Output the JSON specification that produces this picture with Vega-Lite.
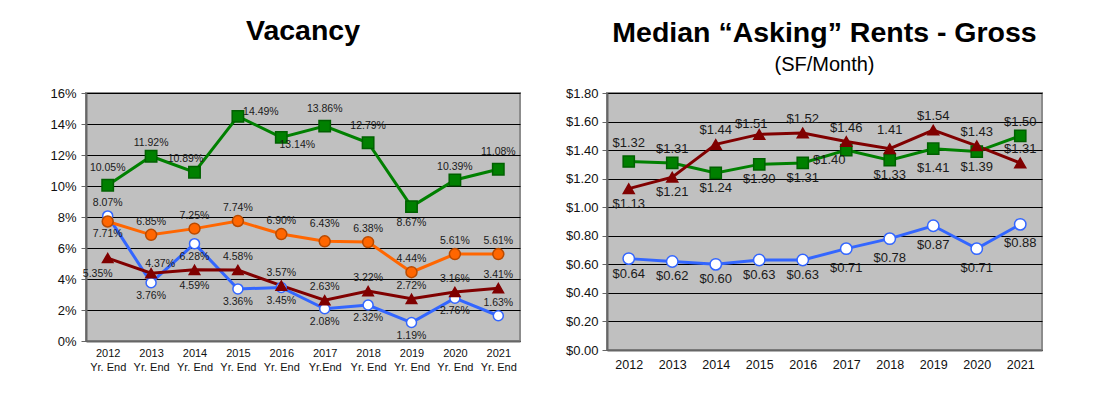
{
  "$schema": "https://vega.github.io/schema/vega-lite/v6.json",
  "padding": {"left": 48, "top": 15, "right": 5, "bottom": 5},
  "background": "white",
  "spacing": 43,
  "config": {
    "font": "Liberation Sans",
    "view": {"fill": "#C0C0C0", "stroke": "#8c8c8c", "strokeWidth": 2},
    "axis": {"labelFont": "Liberation Sans", "labelColor": "#111111", "domainColor": "#666666", "domainWidth": 2, "tickColor": "#666666", "gridColor": "#000000", "gridWidth": 1, "gridOpacity": 1, "title": null},
    "title": {"font": "Liberation Sans", "fontWeight": "bold", "color": "#000000", "anchor": "middle", "frame": "group"}
  },
  "datasets": {
    "vac": [
      {"year": "2012", "s": "blue", "v": 8.07, "t": "8.07%"},
      {"year": "2013", "s": "blue", "v": 3.76, "t": "3.76%"},
      {"year": "2014", "s": "blue", "v": 6.28, "t": "6.28%"},
      {"year": "2015", "s": "blue", "v": 3.36, "t": "3.36%"},
      {"year": "2016", "s": "blue", "v": 3.45, "t": "3.45%"},
      {"year": "2017", "s": "blue", "v": 2.08, "t": "2.08%"},
      {"year": "2018", "s": "blue", "v": 2.32, "t": "2.32%"},
      {"year": "2019", "s": "blue", "v": 1.19, "t": "1.19%"},
      {"year": "2020", "s": "blue", "v": 2.76, "t": "2.76%"},
      {"year": "2021", "s": "blue", "v": 1.63, "t": "1.63%"},
      {"year": "2012", "s": "red", "v": 5.35, "t": "5.35%"},
      {"year": "2013", "s": "red", "v": 4.37, "t": "4.37%"},
      {"year": "2014", "s": "red", "v": 4.59, "t": "4.59%"},
      {"year": "2015", "s": "red", "v": 4.58, "t": "4.58%"},
      {"year": "2016", "s": "red", "v": 3.57, "t": "3.57%"},
      {"year": "2017", "s": "red", "v": 2.63, "t": "2.63%"},
      {"year": "2018", "s": "red", "v": 3.22, "t": "3.22%"},
      {"year": "2019", "s": "red", "v": 2.72, "t": "2.72%"},
      {"year": "2020", "s": "red", "v": 3.16, "t": "3.16%"},
      {"year": "2021", "s": "red", "v": 3.41, "t": "3.41%"},
      {"year": "2012", "s": "orange", "v": 7.71, "t": "7.71%"},
      {"year": "2013", "s": "orange", "v": 6.85, "t": "6.85%"},
      {"year": "2014", "s": "orange", "v": 7.25, "t": "7.25%"},
      {"year": "2015", "s": "orange", "v": 7.74, "t": "7.74%"},
      {"year": "2016", "s": "orange", "v": 6.90, "t": "6.90%"},
      {"year": "2017", "s": "orange", "v": 6.43, "t": "6.43%"},
      {"year": "2018", "s": "orange", "v": 6.38, "t": "6.38%"},
      {"year": "2019", "s": "orange", "v": 4.44, "t": "4.44%"},
      {"year": "2020", "s": "orange", "v": 5.61, "t": "5.61%"},
      {"year": "2021", "s": "orange", "v": 5.61, "t": "5.61%"},
      {"year": "2012", "s": "green", "v": 10.05, "t": "10.05%"},
      {"year": "2013", "s": "green", "v": 11.92, "t": "11.92%"},
      {"year": "2014", "s": "green", "v": 10.89, "t": "10.89%"},
      {"year": "2015", "s": "green", "v": 14.49, "t": "14.49%"},
      {"year": "2016", "s": "green", "v": 13.14, "t": "13.14%"},
      {"year": "2017", "s": "green", "v": 13.86, "t": "13.86%"},
      {"year": "2018", "s": "green", "v": 12.79, "t": "12.79%"},
      {"year": "2019", "s": "green", "v": 8.67, "t": "8.67%"},
      {"year": "2020", "s": "green", "v": 10.39, "t": "10.39%"},
      {"year": "2021", "s": "green", "v": 11.08, "t": "11.08%"}
    ],
    "rent": [
      {"year": "2012", "s": "blue", "v": 0.64, "t": "$0.64"},
      {"year": "2013", "s": "blue", "v": 0.62, "t": "$0.62"},
      {"year": "2014", "s": "blue", "v": 0.60, "t": "$0.60"},
      {"year": "2015", "s": "blue", "v": 0.63, "t": "$0.63"},
      {"year": "2016", "s": "blue", "v": 0.63, "t": "$0.63"},
      {"year": "2017", "s": "blue", "v": 0.71, "t": "$0.71"},
      {"year": "2018", "s": "blue", "v": 0.78, "t": "$0.78"},
      {"year": "2019", "s": "blue", "v": 0.87, "t": "$0.87"},
      {"year": "2020", "s": "blue", "v": 0.71, "t": "$0.71"},
      {"year": "2021", "s": "blue", "v": 0.88, "t": "$0.88"},
      {"year": "2012", "s": "green", "v": 1.32, "t": "$1.32"},
      {"year": "2013", "s": "green", "v": 1.31, "t": "$1.31"},
      {"year": "2014", "s": "green", "v": 1.24, "t": "$1.24"},
      {"year": "2015", "s": "green", "v": 1.30, "t": "$1.30"},
      {"year": "2016", "s": "green", "v": 1.31, "t": "$1.31"},
      {"year": "2017", "s": "green", "v": 1.40, "t": "$1.40"},
      {"year": "2018", "s": "green", "v": 1.33, "t": "$1.33"},
      {"year": "2019", "s": "green", "v": 1.41, "t": "$1.41"},
      {"year": "2020", "s": "green", "v": 1.39, "t": "$1.39"},
      {"year": "2021", "s": "green", "v": 1.50, "t": "$1.50"},
      {"year": "2012", "s": "red", "v": 1.13, "t": "$1.13"},
      {"year": "2013", "s": "red", "v": 1.21, "t": "$1.21"},
      {"year": "2014", "s": "red", "v": 1.44, "t": "$1.44"},
      {"year": "2015", "s": "red", "v": 1.51, "t": "$1.51"},
      {"year": "2016", "s": "red", "v": 1.52, "t": "$1.52"},
      {"year": "2017", "s": "red", "v": 1.46, "t": "$1.46"},
      {"year": "2018", "s": "red", "v": 1.41, "t": "1.41"},
      {"year": "2019", "s": "red", "v": 1.54, "t": "$1.54"},
      {"year": "2020", "s": "red", "v": 1.43, "t": "$1.43"},
      {"year": "2021", "s": "red", "v": 1.31, "t": "$1.31"}
    ]
  },
  "resolve": {"scale": {"color": "independent", "fill": "independent", "stroke": "independent", "shape": "independent", "size": "independent"}},
  "hconcat": [
    {
      "title": {"text": "Vacancy", "fontSize": 28.5, "offset": 42},
      "width": 434,
      "height": 248,
      "data": {"name": "vac"},
      "transform": [{"calculate": "datum.s + datum.year", "as": "k"}],
      "encoding": {
        "x": {"field": "year", "type": "ordinal", "scale": {"paddingInner": 0, "paddingOuter": 0},
              "axis": {"labelAngle": 0, "ticks": false, "labelFontSize": 11, "labelLineHeight": 14, "labelPadding": 6,
                       "labelExpr": "datum.label == '2017' ? ['2017', 'Yr.End'] : [datum.label, 'Yr. End']"}},
        "y": {"field": "v", "type": "quantitative", "scale": {"domain": [0, 16], "nice": false},
              "axis": {"values": [0, 2, 4, 6, 8, 10, 12, 14, 16], "labelExpr": "datum.value + '%'", "labelFontSize": 13, "tickSize": 5, "labelPadding": 5}}
      },
      "layer": [
        {"mark": {"type": "line", "strokeWidth": 3},
         "encoding": {"color": {"field": "s", "type": "nominal", "legend": null,
                                "scale": {"domain": ["blue", "red", "orange", "green"], "range": ["#3366FF", "#800000", "#FF6600", "#008000"]}}}},
        {"mark": {"type": "point", "filled": true, "opacity": 1, "strokeWidth": 1.5},
         "encoding": {
           "shape": {"field": "s", "type": "nominal", "legend": null, "scale": {"domain": ["blue", "red", "orange", "green"], "range": ["circle", "triangle-up", "circle", "square"]}},
           "fill": {"field": "s", "type": "nominal", "legend": null, "scale": {"domain": ["blue", "red", "orange", "green"], "range": ["#FFFFFF", "#800000", "#FF6600", "#008000"]}},
           "stroke": {"field": "s", "type": "nominal", "legend": null, "scale": {"domain": ["blue", "red", "orange", "green"], "range": ["#3366FF", "#800000", "#B84A00", "#006000"]}},
           "size": {"field": "s", "type": "nominal", "legend": null, "scale": {"domain": ["blue", "red", "orange", "green"], "range": [100, 130, 100, 120]}}
         }},
        {"transform": [{"filter": "indexof(['green2012','green2017','green2018','green2021','orange2017','orange2012','blue2013','blue2014','blue2015','blue2016','blue2017','blue2018','blue2019','blue2020','red2014','green2019','red2012','green2015','green2016','red2013','green2014'], datum.k) < 0"}],
         "mark": {"type": "text", "fontSize": 10.5, "color": "#1a1a1a", "dy": -13}, "encoding": {"text": {"field": "t"}}},
        {"transform": [{"filter": "indexof(['green2012','green2017','green2018','green2021','orange2017'], datum.k) >= 0"}],
         "mark": {"type": "text", "fontSize": 10.5, "color": "#1a1a1a", "dy": -17}, "encoding": {"text": {"field": "t"}}},
        {"transform": [{"filter": "indexof(['orange2012','blue2013','blue2014','blue2015','blue2016','blue2017','blue2018','blue2019','blue2020'], datum.k) >= 0"}],
         "mark": {"type": "text", "fontSize": 10.5, "color": "#1a1a1a", "dy": 13}, "encoding": {"text": {"field": "t"}}},
        {"transform": [{"filter": "indexof(['red2014','green2019'], datum.k) >= 0"}],
         "mark": {"type": "text", "fontSize": 10.5, "color": "#1a1a1a", "dy": 16}, "encoding": {"text": {"field": "t"}}},
        {"transform": [{"filter": "datum.k == 'red2012'"}],
         "mark": {"type": "text", "fontSize": 10.5, "color": "#1a1a1a", "dx": -10, "dy": 16}, "encoding": {"text": {"field": "t"}}},
        {"transform": [{"filter": "datum.k == 'green2015'"}],
         "mark": {"type": "text", "fontSize": 10.5, "color": "#1a1a1a", "dx": 23, "dy": -4}, "encoding": {"text": {"field": "t"}}},
        {"transform": [{"filter": "datum.k == 'green2016'"}],
         "mark": {"type": "text", "fontSize": 10.5, "color": "#1a1a1a", "dx": 16, "dy": 8}, "encoding": {"text": {"field": "t"}}},
        {"transform": [{"filter": "datum.k == 'red2013'"}],
         "mark": {"type": "text", "fontSize": 10.5, "color": "#1a1a1a", "dx": 9, "dy": -9}, "encoding": {"text": {"field": "t"}}},
        {"transform": [{"filter": "datum.k == 'green2014'"}],
         "mark": {"type": "text", "fontSize": 10.5, "color": "#1a1a1a", "dx": -9, "dy": -13}, "encoding": {"text": {"field": "t"}}}
      ]
    },
    {
      "title": {"text": "Median “Asking” Rents - Gross", "subtitle": "(SF/Month)", "fontSize": 28.5, "subtitleFontSize": 20, "subtitleFont": "Liberation Sans", "subtitleColor": "#000000", "subtitlePadding": 8, "offset": 12},
      "width": 435,
      "height": 257,
      "data": {"name": "rent"},
      "transform": [{"calculate": "datum.s + datum.year", "as": "k"}],
      "encoding": {
        "x": {"field": "year", "type": "ordinal", "scale": {"paddingInner": 0, "paddingOuter": 0},
              "axis": {"labelAngle": 0, "ticks": false, "labelFontSize": 12.5, "labelPadding": 8}},
        "y": {"field": "v", "type": "quantitative", "scale": {"domain": [0, 1.8], "nice": false},
              "axis": {"values": [0, 0.2, 0.4, 0.6, 0.8, 1.0, 1.2, 1.4, 1.6, 1.8], "format": "$.2f", "labelFontSize": 13, "tickSize": 5, "labelPadding": 4}}
      },
      "layer": [
        {"mark": {"type": "line", "strokeWidth": 3},
         "encoding": {"color": {"field": "s", "type": "nominal", "legend": null,
                                "scale": {"domain": ["blue", "green", "red"], "range": ["#3366FF", "#008000", "#800000"]}}}},
        {"mark": {"type": "point", "filled": true, "opacity": 1, "strokeWidth": 1.5},
         "encoding": {
           "shape": {"field": "s", "type": "nominal", "legend": null, "scale": {"domain": ["blue", "green", "red"], "range": ["circle", "square", "triangle-up"]}},
           "fill": {"field": "s", "type": "nominal", "legend": null, "scale": {"domain": ["blue", "green", "red"], "range": ["#FFFFFF", "#008000", "#800000"]}},
           "stroke": {"field": "s", "type": "nominal", "legend": null, "scale": {"domain": ["blue", "green", "red"], "range": ["#3366FF", "#006000", "#800000"]}},
           "size": {"field": "s", "type": "nominal", "legend": null, "scale": {"domain": ["blue", "green", "red"], "range": [130, 120, 140]}}
         }},
        {"transform": [{"filter": "indexof(['red2018','green2012','red2012','red2013','green2014','green2015','green2016','green2018','green2020','blue2012','blue2013','blue2014','blue2015','blue2016','green2019','blue2017','blue2018','blue2019','blue2020','blue2021','green2017','red2015'], datum.k) < 0"}],
         "mark": {"type": "text", "fontSize": 13, "color": "#1a1a1a", "dy": -14}, "encoding": {"text": {"field": "t"}}},
        {"transform": [{"filter": "indexof(['red2018','green2012'], datum.k) >= 0"}],
         "mark": {"type": "text", "fontSize": 13, "color": "#1a1a1a", "dy": -19}, "encoding": {"text": {"field": "t"}}},
        {"transform": [{"filter": "indexof(['red2012','red2013','green2014','green2015','green2016','green2018','green2020','blue2012','blue2013','blue2014','blue2015','blue2016'], datum.k) >= 0"}],
         "mark": {"type": "text", "fontSize": 13, "color": "#1a1a1a", "dy": 15}, "encoding": {"text": {"field": "t"}}},
        {"transform": [{"filter": "indexof(['green2019','blue2017','blue2018','blue2019','blue2020','blue2021'], datum.k) >= 0"}],
         "mark": {"type": "text", "fontSize": 13, "color": "#1a1a1a", "dy": 19}, "encoding": {"text": {"field": "t"}}},
        {"transform": [{"filter": "datum.k == 'green2017'"}],
         "mark": {"type": "text", "fontSize": 13, "color": "#1a1a1a", "dx": -17, "dy": 10}, "encoding": {"text": {"field": "t"}}},
        {"transform": [{"filter": "datum.k == 'red2015'"}],
         "mark": {"type": "text", "fontSize": 13, "color": "#1a1a1a", "dx": -8, "dy": -10}, "encoding": {"text": {"field": "t"}}}
      ]
    }
  ]
}
